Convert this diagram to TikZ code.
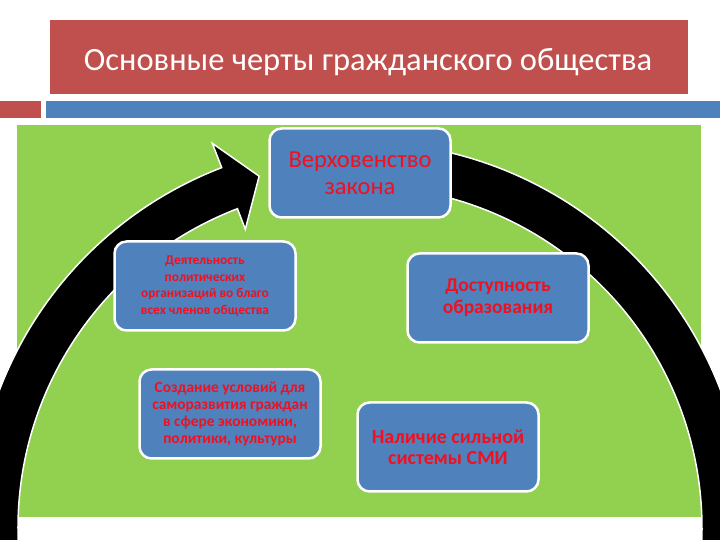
\documentclass[tikz,border=0pt]{standalone}
\usepackage{fontspec}
\setmainfont{Carlito}
\usepackage{xcolor}
\usepackage{tikz}
\usetikzlibrary{positioning, calc}
\definecolor{titlered}{RGB}{192, 80, 77}
\definecolor{barblue}{RGB}{79, 129, 189}
\definecolor{fieldgreen}{RGB}{146, 208, 80}
\definecolor{textred}{RGB}{240, 16, 32}

\begin{document}
\begin{tikzpicture}[x=1pt, y=1pt,
  feature/.style={draw=white, line width=2.5pt, fill=barblue, rounded corners=12pt,
    minimum width=181pt, minimum height=89pt, align=center, text=textred, inner sep=2pt},
  band/.style={draw=white, line width=1.5pt, fill=black}]
  \useasboundingbox (0,0) rectangle (720,540);
  \clip (0,0) rectangle (720,540);
  % header
  \fill[titlered] (50,446) rectangle (688,520);
  \node[text=white, font=\fontsize{32.5}{36}\selectfont] (title) at (368,478) {Основные черты гражданского общества};
  \fill[titlered] (0,422) rectangle (41,439);
  \fill[barblue] (46,422) rectangle (720,439);
  % field
  \fill[fieldgreen] (17,23) rectangle (701,415);
  % circular arrow
  \coordinate (o) at (360,12);
  \filldraw[band] ($(o)+(96:386)$) arc (96:-5:386) -- ($(o)+(-5:342)$) arc (-5:96:342) -- cycle;
  \filldraw[band] ($(o)+(184:386)$) arc (184:111:386) -- ($(o)+(111:412)$) -- ($(o)+(106:366)$)
    -- ($(o)+(111:320)$) -- ($(o)+(111:342)$) arc (111:184:342) -- cycle;
  % features
  \node[feature, font=\fontsize{24.5}{27}\selectfont] (law) at (360,367) {Верховенство\\закона};
  \node[feature, font=\bfseries\fontsize{13.4}{16.5}\selectfont] (politics) at (205,254)
    {Деятельность\\политических\\организаций во благо\\всех членов общества};
  \node[feature, font=\bfseries\fontsize{19.5}{22}\selectfont] (education) at (498,242) {Доступность\\образования};
  \node[feature, font=\bfseries\fontsize{15.4}{17}\selectfont] (growth) at (230,126)
    {Создание условий для\\саморазвития граждан\\в сфере экономики,\\политики, культуры};
  \node[feature, font=\bfseries\fontsize{20}{21}\selectfont] (media) at (448,93) {Наличие сильной\\системы СМИ};
\end{tikzpicture}
\end{document}
